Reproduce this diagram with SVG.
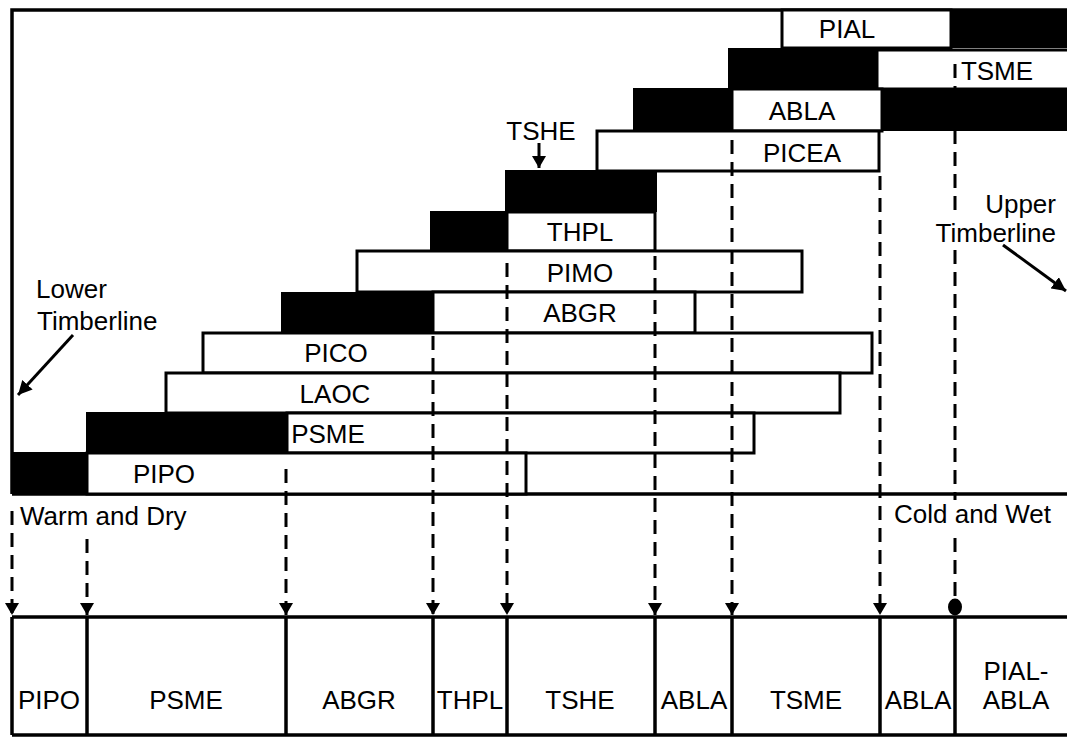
<svg xmlns="http://www.w3.org/2000/svg" width="1067" height="737" viewBox="0 0 1067 737">
  <style>
    .t { font-family: "Liberation Sans", Arial, Helvetica, sans-serif; font-size: 26px; fill: #000; }
    .c { text-anchor: middle; }
    .e { text-anchor: end; }
    .box { fill: #fff; stroke: #000; stroke-width: 3; }
    .blk { fill: #000; stroke: none; }
    .frame { fill: none; stroke: #000; stroke-width: 3.5; }
    .cell { fill: none; stroke: #000; stroke-width: 3.5; }
    .dash { fill: none; stroke: #000; stroke-width: 3; stroke-dasharray: 14 8; }
    .solid { fill: none; stroke: #000; stroke-width: 3; }
  </style>
  <defs>
    <marker id="ah" viewBox="0 0 12 14" refX="12" refY="7" markerWidth="12" markerHeight="14" markerUnits="userSpaceOnUse" orient="auto">
      <path d="M0,0 L12,7 L0,14 z" fill="#000"/>
    </marker>
    <marker id="ahs" viewBox="0 0 14 14" refX="14" refY="7" markerWidth="14" markerHeight="14" markerUnits="userSpaceOnUse" orient="auto">
      <path d="M0,0 L14,7 L0,14 z" fill="#000"/>
    </marker>
  </defs>
  <rect width="1067" height="737" fill="#fff"/>

  <!-- upper chart frame -->
  <g id="frame">
    <path class="frame" d="M12,494 V10 H1067"/>
    <line class="frame" x1="12" y1="494" x2="1067" y2="494"/>
  </g>

  <!-- species ranges, one row each -->
  <g id="row-pial">
    <rect class="box" x="782" y="10" width="169" height="38"/>
    <rect class="blk" x="951" y="10" width="116" height="38"/>
    <text class="t c" x="847" y="38">PIAL</text>
  </g>
  <g id="row-tsme">
    <rect class="box" x="877" y="50" width="195" height="39"/>
    <rect class="blk" x="728" y="48" width="149" height="41"/>
    <text class="t c" x="997" y="80">TSME</text>
  </g>
  <g id="row-abla">
    <rect class="box" x="732" y="89" width="150" height="42"/>
    <rect class="blk" x="633" y="88" width="99" height="43"/>
    <rect class="blk" x="882" y="88" width="185" height="43"/>
    <text class="t c" x="802" y="120">ABLA</text>
  </g>
  <g id="row-picea">
    <rect class="box" x="597" y="131" width="282" height="40"/>
    <text class="t c" x="802" y="162">PICEA</text>
  </g>
  <g id="row-tshe">
    <rect class="blk" x="505" y="170" width="152" height="42"/>
  </g>
  <g id="row-thpl">
    <rect class="box" x="507" y="212" width="148" height="39"/>
    <rect class="blk" x="430" y="211" width="77" height="40"/>
    <text class="t c" x="580" y="241">THPL</text>
  </g>
  <g id="row-pimo">
    <rect class="box" x="357" y="251" width="445" height="41"/>
    <text class="t c" x="580" y="282">PIMO</text>
  </g>
  <g id="row-abgr">
    <rect class="box" x="433" y="292" width="262" height="41"/>
    <rect class="blk" x="281" y="292" width="152" height="41"/>
    <text class="t c" x="580" y="322">ABGR</text>
  </g>
  <g id="row-pico">
    <rect class="box" x="203" y="333" width="669" height="40"/>
    <text class="t c" x="336" y="362">PICO</text>
  </g>
  <g id="row-laoc">
    <rect class="box" x="166" y="373" width="674" height="40"/>
    <text class="t c" x="335" y="403">LAOC</text>
  </g>
  <g id="row-psme">
    <rect class="box" x="287" y="413" width="467" height="40"/>
    <rect class="blk" x="86" y="412" width="201" height="41"/>
    <text class="t c" x="328" y="443">PSME</text>
  </g>
  <g id="row-pipo">
    <rect class="box" x="87" y="453" width="439" height="41"/>
    <rect class="blk" x="12" y="452" width="75" height="42"/>
    <text class="t c" x="164" y="483">PIPO</text>
  </g>

  <!-- free labels -->
  <g id="label-tshe">
    <text class="t c" x="541" y="140">TSHE</text>
  </g>
  <g id="label-lower">
    <text class="t" x="36" y="298">Lower</text>
    <text class="t" x="37" y="330">Timberline</text>
  </g>
  <g id="label-upper">
    <text class="t e" x="1056" y="213">Upper</text>
    <text class="t e" x="1056" y="242">Timberline</text>
  </g>
  <g id="label-gradient">
    <text class="t" x="20" y="525">Warm and Dry</text>
    <text class="t" x="894" y="523">Cold and Wet</text>
  </g>

  <!-- habitat type series along the gradient -->
  <g id="series">
    <line class="cell" x1="12" y1="617" x2="1067" y2="617"/>
    <line class="cell" x1="12" y1="735" x2="1067" y2="735"/>
    <line class="cell" x1="12" y1="617" x2="12" y2="735"/>
    <line class="cell" x1="87" y1="617" x2="87" y2="735"/>
    <line class="cell" x1="286" y1="617" x2="286" y2="735"/>
    <line class="cell" x1="433" y1="617" x2="433" y2="735"/>
    <line class="cell" x1="507" y1="617" x2="507" y2="735"/>
    <line class="cell" x1="655" y1="617" x2="655" y2="735"/>
    <line class="cell" x1="732" y1="617" x2="732" y2="735"/>
    <line class="cell" x1="880" y1="617" x2="880" y2="735"/>
    <line class="cell" x1="955" y1="617" x2="955" y2="735"/>
  </g>
  <g id="cell-pipo"><text class="t c" x="49" y="709">PIPO</text></g>
  <g id="cell-psme"><text class="t c" x="186" y="709">PSME</text></g>
  <g id="cell-abgr"><text class="t c" x="359" y="709">ABGR</text></g>
  <g id="cell-thpl"><text class="t c" x="470" y="709">THPL</text></g>
  <g id="cell-tshe"><text class="t c" x="580" y="709">TSHE</text></g>
  <g id="cell-abla1"><text class="t c" x="694" y="709">ABLA</text></g>
  <g id="cell-tsme"><text class="t c" x="806" y="709">TSME</text></g>
  <g id="cell-abla2"><text class="t c" x="918" y="709">ABLA</text></g>
  <g id="cell-pial-abla">
    <text class="t c" x="1016" y="680">PIAL-</text>
    <text class="t c" x="1016" y="709">ABLA</text>
  </g>

  <!-- connectors -->
  <g id="connectors">
    <line class="dash" x1="12" y1="511" x2="12" y2="615" marker-end="url(#ah)"/>
    <line class="dash" x1="87" y1="539" x2="87" y2="615" marker-end="url(#ah)"/>
    <line class="dash" x1="286" y1="469" x2="286" y2="615" marker-end="url(#ah)"/>
    <line class="dash" x1="433" y1="336" x2="433" y2="615" marker-end="url(#ah)"/>
    <line class="dash" x1="507" y1="263" x2="507" y2="615" marker-end="url(#ah)"/>
    <line class="dash" x1="655" y1="256" x2="655" y2="615" marker-end="url(#ah)"/>
    <line class="dash" x1="732" y1="140" x2="732" y2="615" marker-end="url(#ah)"/>
    <line class="dash" x1="880" y1="176" x2="880" y2="615" marker-end="url(#ah)"/>
    <!-- upper timberline line: interrupted where the labels sit -->
    <path class="dash" d="M955,64 V212 M955,250 V500 M955,538 V604"/>
    <ellipse cx="955" cy="607" rx="7" ry="8.5" fill="#000"/>
    <line class="solid" x1="539" y1="143" x2="539" y2="168" marker-end="url(#ah)"/>
    <line class="solid" x1="73" y1="335" x2="18" y2="395" marker-end="url(#ahs)"/>
    <line class="solid" x1="1003" y1="245" x2="1066" y2="291" marker-end="url(#ahs)"/>
  </g>
</svg>
